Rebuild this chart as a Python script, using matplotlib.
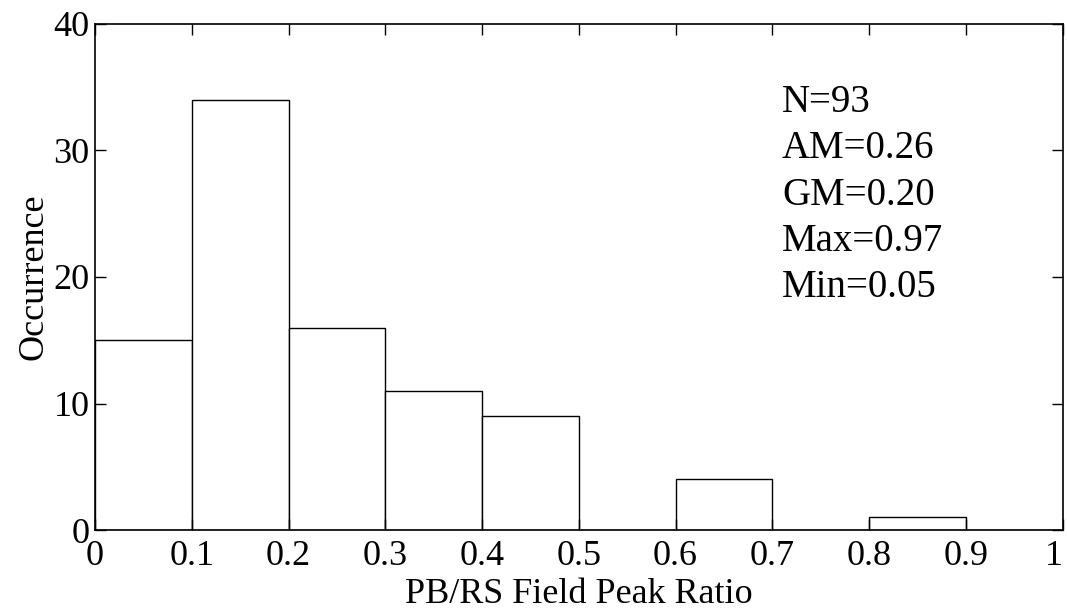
import matplotlib
matplotlib.use('Agg')
import matplotlib.pyplot as plt

plt.rcParams['font.family'] = ['Liberation Serif', 'DejaVu Serif']

# histogram bins and counts
bin_left = [0.0, 0.1, 0.2, 0.3, 0.4, 0.5, 0.6, 0.7, 0.8, 0.9]
counts = [15, 34, 16, 11, 9, 0, 4, 0, 1, 0]
bin_width = 0.1
stats = ['N=93', 'AM=0.26', 'GM=0.20', 'Max=0.97', 'Min=0.05']

fig = plt.figure(figsize=(10.67, 6.1), dpi=100)
ax = fig.add_axes([0.089, 0.131, 0.907, 0.830])

ax.bar(bin_left, counts, width=bin_width, align='edge',
       facecolor='white', edgecolor='black', linewidth=1.0)

ax.set_xlim(0, 1)
ax.set_ylim(0, 40)
ax.set_xticks([i / 10 for i in range(11)])
ax.set_xticklabels(['0', '0.1', '0.2', '0.3', '0.4', '0.5', '0.6', '0.7', '0.8', '0.9', '1'])
ax.set_yticks([0, 10, 20, 30, 40])
ax.tick_params(direction='in', top=True, right=True, length=8, width=1,
               labelsize=26)
ax.tick_params(axis='x', pad=7)
ax.tick_params(axis='y', pad=4)
ax.get_xticklabels()[-1].set_horizontalalignment('right')
for s in ax.spines.values():
    s.set_linewidth(1.2)

ax.set_xlabel('PB/RS Field Peak Ratio', fontsize=26, labelpad=4)
ax.set_ylabel('Occurrence', fontsize=26, labelpad=2)

# stats block
y0 = 0.825
for i, s in enumerate(stats):
    ax.text(0.71, y0 - i * 0.091, s, transform=ax.transAxes,
            fontsize=28, va='baseline', ha='left')

fig.savefig('out.png', dpi=100)
